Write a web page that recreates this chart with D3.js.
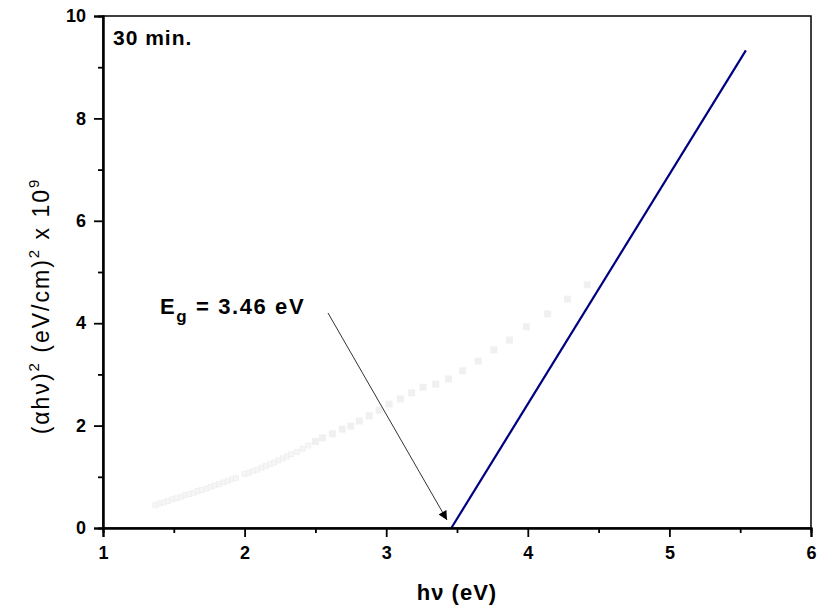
<!DOCTYPE html>
<html>
<head>
<meta charset="utf-8">
<script src="https://cdn.jsdelivr.net/npm/d3@7"></script>
<style>
  body { margin: 0; background: #fff; }
  svg text { font-family: "Liberation Sans", Arial, sans-serif; }
</style>
</head>
<body>
<div id="chart"></div>
<script>
var margin = { top: 16, right: 8, bottom: 85, left: 103 };
var width = 819, height = 613;

// measured points (faint squares), x = photon energy, y = (ahv)^2 / 1e9
var photonEnergy = [1.37, 1.40, 1.43, 1.46, 1.49, 1.52, 1.55, 1.58, 1.61, 1.64, 1.67, 1.70, 1.73, 1.76, 1.79,
    1.82, 1.85, 1.88, 1.91, 1.94, 2.00, 2.03, 2.06, 2.09, 2.12, 2.15, 2.18, 2.21, 2.24, 2.27, 2.30, 2.33,
    2.37, 2.41, 2.45, 2.50, 2.55, 2.62, 2.69, 2.75, 2.81, 2.88, 2.95, 3.02, 3.10, 3.18, 3.26, 3.35, 3.44,
    3.54, 3.65, 3.76, 3.87, 3.99, 4.14, 4.28, 4.42];
var absorption = [0.45, 0.48, 0.50, 0.53, 0.56, 0.58, 0.61, 0.64, 0.66, 0.69, 0.72, 0.74, 0.77, 0.80, 0.83,
    0.86, 0.89, 0.92, 0.95, 0.98, 1.05, 1.08, 1.11, 1.14, 1.18, 1.21, 1.25, 1.28, 1.32, 1.36, 1.40, 1.44,
    1.49, 1.55, 1.61, 1.69, 1.76, 1.84, 1.93, 1.99, 2.09, 2.19, 2.30, 2.42, 2.52, 2.64, 2.75, 2.81, 2.91,
    3.07, 3.26, 3.48, 3.67, 3.93, 4.18, 4.47, 4.75];

// linear fit
var fitX = [3.46, 5.54];
var fitY = [0, 9.33];

var xTicks = [1, 2, 3, 4, 5, 6];
var yTicks = [0, 2, 4, 6, 8, 10];

var svg = d3.select("#chart").append("svg")
    .attr("width", width)
    .attr("height", height);

var x = d3.scaleLinear().domain([1, 6]).range([margin.left, width - margin.right]);
var y = d3.scaleLinear().domain([0, 10]).range([height - margin.bottom, margin.top]);

var pts = photonEnergy.map(function (d, i) { return { x: d, y: absorption[i] }; });

// faint squares
svg.append("g").selectAll("rect")
    .data(pts)
    .enter()
    .append("rect")
    .attr("x", function (d) { return x(d.x) - (d.x < 2.5 ? 2.5 : 3.5); })
    .attr("y", function (d) { return y(d.y) - (d.x < 2.5 ? 2.5 : 3.5); })
    .attr("width", function (d) { return d.x < 2.5 ? 5 : 7; })
    .attr("height", function (d) { return d.x < 2.5 ? 5 : 7; })
    .style("fill", function (d) { return d.x < 2.5 ? "#f6f6f6" : "#f0f0f0"; })
    .style("stroke", function (d) { return d.x < 2.5 ? "#ebebeb" : "none"; })
    .style("stroke-width", 0.6);

// fit line
var line = d3.line()
    .x(function (d) { return x(d[0]); })
    .y(function (d) { return y(d[1]); });

svg.append("path")
    .datum(d3.zip(fitX, fitY))
    .attr("d", line)
    .style("fill", "none")
    .style("stroke", "#000080")
    .style("stroke-width", 2.2);

// frame
svg.append("rect")
    .attr("x", margin.left)
    .attr("y", margin.top)
    .attr("width", width - margin.left - margin.right)
    .attr("height", height - margin.top - margin.bottom)
    .style("fill", "none")
    .style("stroke", "#000")
    .style("stroke-width", 1.5);

// axes
var xAxis = d3.axisBottom(x).tickValues(xTicks).tickFormat(d3.format("d")).tickSize(9).tickPadding(9);
var yAxis = d3.axisLeft(y).tickValues(yTicks).tickFormat(d3.format("d")).tickSize(9).tickPadding(8);

var gx = svg.append("g")
    .attr("transform", "translate(0," + (height - margin.bottom) + ")")
    .call(xAxis);
gx.append("g").call(d3.axisBottom(x).tickValues(d3.range(1.5, 6, 1)).tickSize(5).tickFormat(""));

var gy = svg.append("g")
    .attr("transform", "translate(" + margin.left + ",0)")
    .call(yAxis);
gy.append("g").call(d3.axisLeft(y).tickValues(d3.range(1, 10, 2)).tickSize(5).tickFormat(""));

svg.selectAll(".domain").style("stroke", "#000").style("stroke-width", 2);
svg.selectAll(".tick line").style("stroke", "#000").style("stroke-width", 1.8);
svg.selectAll(".tick text")
    .style("font-size", "18px")
    .style("font-weight", "bold")
    .style("font-family", "'Liberation Sans', Arial, sans-serif")
    .style("fill", "#000");

// axis titles
svg.append("text")
    .attr("x", (margin.left + width - margin.right) / 2)
    .attr("y", 600)
    .attr("text-anchor", "middle")
    .style("font-size", "22px")
    .style("font-weight", "bold")
    .style("letter-spacing", "1px")
    .text("h\u03bd (eV)");

var yl = svg.append("text")
    .attr("transform", "translate(49," + 306 + ") rotate(-90)")
    .attr("text-anchor", "middle")
    .style("font-size", "23px")
    .style("letter-spacing", "2px");
yl.append("tspan").text("(\u03b1h\u03bd)");
yl.append("tspan").attr("dy", -10).style("font-size", "15px").text("2");
yl.append("tspan").attr("dy", 10).text(" (eV/cm)");
yl.append("tspan").attr("dy", -10).style("font-size", "15px").text("2");
yl.append("tspan").attr("dy", 10).text(" x 10");
yl.append("tspan").attr("dy", -10).style("font-size", "15px").text("9");

// labels
svg.append("text")
    .attr("x", 113)
    .attr("y", 45)
    .style("font-size", "21px")
    .style("font-weight", "bold")
    .style("letter-spacing", "1px")
    .text("30 min.");

var eg = svg.append("text")
    .attr("x", 160)
    .attr("y", 314)
    .style("font-size", "22px")
    .style("font-weight", "bold")
    .style("letter-spacing", "1.6px");
eg.append("tspan").text("E");
eg.append("tspan").attr("dy", 8).style("font-size", "17px").text("g");
eg.append("tspan").attr("dy", -8).text(" = 3.46 eV");

// arrow
svg.append("defs").append("marker")
    .attr("id", "arrow")
    .attr("viewBox", "0 0 10 10")
    .attr("refX", 10)
    .attr("refY", 5)
    .attr("markerWidth", 14)
    .attr("markerHeight", 9)
    .attr("markerUnits", "userSpaceOnUse")
    .attr("orient", "auto")
    .append("path")
    .attr("d", "M0,0 L10,5 L0,10 Z")
    .style("fill", "#000");

svg.append("line")
    .attr("x1", 328)
    .attr("y1", 313)
    .attr("x2", 447)
    .attr("y2", 520)
    .style("stroke", "#333")
    .style("stroke-width", 1)
    .attr("marker-end", "url(#arrow)");
</script>
</body>
</html>
